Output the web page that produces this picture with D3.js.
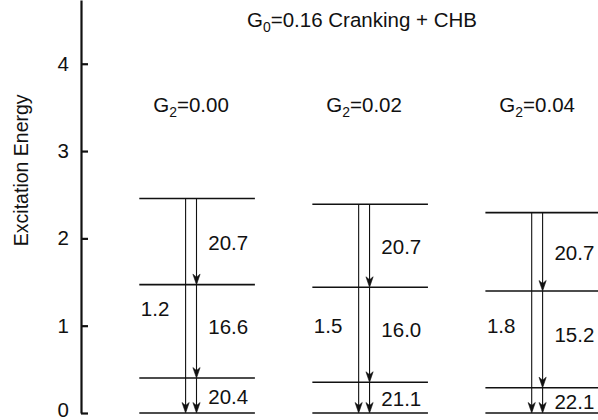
<!DOCTYPE html>
<html>
<head>
<meta charset="utf-8">
<script src="https://cdn.jsdelivr.net/npm/d3@7"></script>
<style>
  html, body { margin: 0; padding: 0; background: #fff; }
  svg { display: block; }
  text { font-family: "Liberation Sans", Arial, Helvetica, sans-serif; fill: #111; }
</style>
</head>
<body>
<svg id="chart" width="598" height="420"></svg>
<script>
// Pairing strength G2 for each level scheme
const g2Values = ["0.00", "0.02", "0.04"];

// Level energies (ground, 1st, 2nd, 3rd excited) per scheme
const levelsG000 = [0, 0.40, 1.47, 2.456];
const levelsG002 = [0, 0.352, 1.44, 2.39];
const levelsG004 = [0, 0.29, 1.397, 2.295];

// Transition values, top -> bottom cascade
const upperTransition = ["20.7", "20.7", "20.7"];
const middleTransition = ["16.6", "16.0", "15.2"];
const lowerTransition = ["20.4", "21.1", "22.1"];

// Crossover transition values (3rd excited -> ground)
const crossoverValue = ["1.2", "1.5", "1.8"];

const yTicks = [0, 1, 2, 3, 4];
const titleMain = "=0.16 Cranking + CHB";
const yTitle = "Excitation Energy";

const levelSets = [levelsG000, levelsG002, levelsG004];

const svg = d3.select("#chart");
const FONT = 20.5;

const y = d3.scaleLinear().domain([0, 4.73]).range([413, 0]);
const x = d3.scaleBand().domain(g2Values).range([139.3, 601])
  .paddingInner(0.332).paddingOuter(0);
const axisX = 81;

// Y axis, ticks pointing inward
const axis = d3.axisLeft(y).tickValues(yTicks).tickFormat(d3.format("d"))
  .tickSizeInner(-7).tickSizeOuter(0).tickPadding(12);
const gAxis = svg.append("g").attr("transform", `translate(${axisX},0)`).call(axis);
gAxis.select(".domain").attr("stroke", "#111").attr("stroke-width", 2.2);
gAxis.selectAll(".tick line").attr("stroke", "#111").attr("stroke-width", 2.2);
gAxis.selectAll(".tick text").attr("font-size", FONT)
  .attr("font-family", "Liberation Sans, Arial, sans-serif").attr("fill", "#111")
  .attr("dy", d => (d === 0 ? "0.17em" : "0.32em"));

svg.append("text")
  .attr("transform", `translate(28,${y(2.78)}) rotate(-90)`)
  .attr("text-anchor", "middle")
  .attr("font-size", FONT - 1)
  .text(yTitle);

// Title
const title = svg.append("text").attr("x", 362).attr("y", 27)
  .attr("text-anchor", "middle").attr("font-size", FONT);
title.append("tspan").text("G");
title.append("tspan").attr("font-size", FONT * 0.68).attr("dy", 5).text("0");
title.append("tspan").attr("dy", -5).text(titleMain);

// Arrowhead shape
const headPath = "M0,0 L-3.6,-10.5 L0,-7.5 L3.6,-10.5 Z";
function arrow(g, xPos, e0, e1) {
  const ya = y(e0), yb = y(e1);
  g.append("line").attr("x1", xPos).attr("x2", xPos).attr("y1", ya).attr("y2", yb - 2)
    .attr("stroke", "#111").attr("stroke-width", 1.1);
  g.append("path").attr("d", headPath)
    .attr("transform", `translate(${xPos},${yb})`)
    .attr("fill", "#111").attr("stroke", "#111").attr("stroke-width", 0.6);
}

const transitionSets = [upperTransition, middleTransition, lowerTransition];
const ratioLift = [17, 0, 0];

g2Values.forEach((g2, i) => {
  const left = x(g2), w = x.bandwidth();
  const lv = levelSets[i];
  const g = svg.append("g");

  // Levels
  g.selectAll("line.level").data(lv).enter().append("line")
    .attr("class", "level")
    .attr("x1", left).attr("x2", left + w)
    .attr("y1", d => y(d)).attr("y2", d => y(d))
    .attr("stroke", "#111").attr("stroke-width", 1.6);

  const xa = left + 46.3, xb = left + 57.2;

  // Crossover arrow: top level straight to ground
  arrow(g, xa, lv[3], lv[0]);
  // Cascade: 3 -> 2 -> 1 -> 0
  arrow(g, xb, lv[3], lv[2]);
  arrow(g, xb, lv[2], lv[1]);
  arrow(g, xb, lv[1], lv[0]);

  // Cascade labels at mid-gap
  [[3, 2], [2, 1], [1, 0]].forEach(([a, b], k) => {
    g.append("text")
      .attr("x", left + 69)
      .attr("y", (y(lv[a]) + y(lv[b])) / 2 + (k === 1 ? -5 : 1))
      .attr("dy", "0.36em")
      .attr("font-size", FONT)
      .text(transitionSets[k][i]);
  });

  // Crossover label
  g.append("text")
    .attr("x", left + 1.5)
    .attr("y", y(1.0) - ratioLift[i])
    .attr("dy", "0.36em")
    .attr("font-size", FONT)
    .text(crossoverValue[i]);

  // Scheme label
  const lab = g.append("text").attr("x", (xa + xb) / 2).attr("y", 111.5)
    .attr("text-anchor", "middle").attr("font-size", FONT);
  lab.append("tspan").text("G");
  lab.append("tspan").attr("font-size", FONT * 0.68).attr("dy", 5).text("2");
  lab.append("tspan").attr("dy", -5).text("=" + g2);
});
</script>
</body>
</html>
